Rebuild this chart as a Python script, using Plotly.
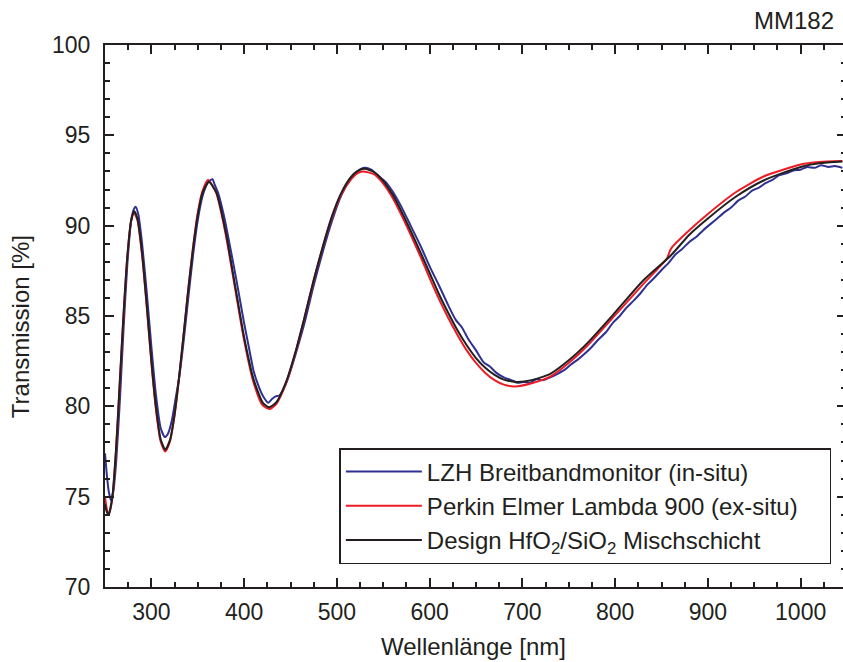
import plotly.graph_objects as go

# ---- data ----
design_wl = [250, 252, 254, 258, 262, 266, 270, 274, 278, 281.5, 285, 290, 295, 300, 305, 310, 315,
             320, 325, 330, 335, 340, 345, 350, 355, 362, 370, 380, 390, 400, 410, 420, 427,
             435, 445, 455, 465, 475, 485, 495, 505, 515, 522, 530, 540, 550, 560, 570, 580, 590,
             600, 610, 620, 630, 640, 650, 660, 670, 680, 694, 710, 730, 750, 770, 800, 830, 860,
             880, 900, 930, 960, 1000, 1020, 1045]
design_T = [74.6, 74.15, 74.0, 75.02, 77.72, 81.41, 85.12, 88.25, 90.23, 90.8, 90.38, 88.47, 85.64,
            82.54, 79.93, 78.18, 77.6, 78.13, 79.56, 81.67, 84.09, 86.56, 88.75, 90.58, 91.79, 92.43,
            91.84, 89.70, 86.76, 83.82, 81.52, 80.21, 79.95, 80.24, 81.32, 82.95, 84.91, 86.99, 88.88,
            90.57, 91.84, 92.68, 93.02, 93.15, 92.97, 92.47, 91.72, 90.75, 89.67, 88.54, 87.38, 86.22,
            85.18, 84.21, 83.38, 82.67, 82.13, 81.74, 81.48, 81.35, 81.45, 81.8, 82.55, 83.5, 85.2,
            86.95, 88.35, 89.5, 90.4, 91.6, 92.5, 93.25, 93.45, 93.55]

pe_wl = [250, 252, 254, 258, 262, 266, 270, 274, 278, 281, 285, 290, 295, 300, 305, 310, 315,
         320, 325, 330, 335, 340, 345, 350, 355, 361, 370, 380, 390, 400, 410, 420, 428,
         435, 445, 455, 465, 475, 485, 495, 505, 515, 522, 528, 540, 550, 560, 570, 580, 590,
         600, 610, 620, 630, 640, 650, 660, 670, 680, 692, 710, 730, 750, 770, 800, 830, 856,
         859, 862, 880, 900, 930, 960, 1000, 1020, 1045]
pe_T = [75.0, 74.3, 74.0, 74.95, 77.6, 81.3, 85.0, 88.2, 90.2, 90.75, 90.3, 88.35, 85.5, 82.4,
        79.8, 78.05, 77.5, 78.05, 79.5, 81.65, 84.1, 86.6, 88.85, 90.7, 91.9, 92.53, 91.8, 89.55,
        86.6, 83.65, 81.35, 80.05, 79.85, 80.15, 81.25, 82.9, 84.87, 86.95, 88.85, 90.5, 91.75,
        92.55, 92.9, 93.0, 92.85, 92.33, 91.55, 90.55, 89.45, 88.3, 87.1, 85.95, 84.9, 83.95,
        83.1, 82.4, 81.85, 81.45, 81.2, 81.1, 81.28, 81.65, 82.4, 83.35, 85.05, 86.75, 88.2,
        88.6, 88.85, 89.75, 90.65, 91.85, 92.72, 93.38, 93.52, 93.58]

lzh_wl = [250, 252, 254, 256.5, 259, 262, 266, 270, 274, 278, 281, 283, 286, 290, 295, 300, 305,
          310, 314.5, 318, 322, 326, 330, 335, 340, 345, 350, 355, 360, 363, 366, 368, 372, 378,
          385, 392, 400, 405, 410, 415, 420, 426, 430, 434, 438, 442, 447, 455, 465, 475, 485,
          495, 505, 515, 522, 530, 537, 545, 552, 560, 570, 580, 590, 600, 610, 620, 628, 635,
          642, 650, 658, 665, 672, 680, 688, 695, 702, 708, 715, 722, 730, 738, 745, 752, 760,
          768, 775, 782, 790, 798, 805, 812, 820, 828, 835, 842, 850, 857, 865, 872, 880, 888,
          895, 903, 910, 918, 925, 933, 940, 948, 955, 962, 970, 977, 985, 992, 1000, 1007,
          1015, 1022, 1030, 1037, 1045]
lzh_T = [77.4, 76.2, 75.3, 74.8, 75.3, 76.9, 80.3, 84.3, 87.8, 90.2, 90.9, 91.05, 90.6, 89.0,
         86.3, 83.3, 80.6, 78.8, 78.3, 78.5, 79.2, 80.4, 81.6, 83.7, 86.1, 88.4, 90.3, 91.6, 92.3,
         92.5, 92.57, 92.3, 91.8, 90.6, 88.8, 86.9, 84.6, 83.3, 82.0, 81.2, 80.6, 80.2, 80.4,
         80.55, 80.6, 80.9, 81.5, 82.8, 84.6, 86.7, 88.6, 90.3, 91.7, 92.6, 93.0, 93.2, 93.1,
         92.75, 92.45, 91.9, 91.0, 89.95, 88.9, 87.75, 86.7, 85.6, 84.8, 84.35, 83.7, 83.1,
         82.45, 82.2, 81.85, 81.6, 81.45, 81.3, 81.35, 81.3, 81.5, 81.45, 81.6, 81.8, 82.0,
         82.3, 82.6, 82.95, 83.3, 83.7, 84.1, 84.65, 85.0, 85.45, 85.85, 86.3, 86.75, 87.1,
         87.55, 87.9, 88.4, 88.7, 89.1, 89.4, 89.75, 90.1, 90.4, 90.75, 91.0, 91.4, 91.6,
         91.95, 92.1, 92.35, 92.55, 92.8, 92.9, 93.05, 93.1, 93.25, 93.2, 93.35, 93.25, 93.3,
         93.2]

series_names = ["LZH Breitbandmonitor (in-situ)",
                "Perkin Elmer Lambda 900 (ex-situ)\u00a0\u00a0\u00a0\u00a0",
                "Design HfO<sub>2</sub>/SiO<sub>2</sub> Mischschicht"]
x_ticks = [300, 400, 500, 600, 700, 800, 900, 1000]
y_ticks = [70, 75, 80, 85, 90, 95, 100]

INK = "#231f20"
FONT = "Liberation Sans, Arial, sans-serif"

# plot area in window pixels: x 105..848 (right edge falls just outside the window), y 45..587
L, T = 105, 45
PW, PH = 743, 542
W, H = L + PW, 662


def px(xw):  # window x -> paper x
    return (xw - L) / PW


def py(yw):  # window y -> paper y
    return (T + PH - yw) / PH


fig = go.Figure()
fig.add_trace(go.Scatter(x=lzh_wl, y=lzh_T, mode="lines", name=series_names[0],
                         line=dict(color="#2e3192", width=2, shape="spline", smoothing=0.6)))
fig.add_trace(go.Scatter(x=pe_wl, y=pe_T, mode="lines", name=series_names[1],
                         line=dict(color="#ed1c24", width=2, shape="spline", smoothing=0.6)))
fig.add_trace(go.Scatter(x=design_wl, y=design_T, mode="lines", name=series_names[2],
                         line=dict(color=INK, width=2, shape="spline", smoothing=0.6)))

fig.update_layout(
    width=W, height=H,
    margin=dict(l=L, r=0, t=T, b=H - T - PH),
    paper_bgcolor="white", plot_bgcolor="white",
    font=dict(family=FONT, size=23, color=INK),
    showlegend=True,
    legend=dict(x=px(340), y=py(448), xanchor="left", yanchor="top",
                bgcolor="white", bordercolor=INK, borderwidth=1.5,
                font=dict(size=24, color=INK), itemwidth=76, tracegroupgap=0),
    xaxis=dict(range=[250, 1048.9], tickvals=x_ticks, ticks="inside", ticklen=9, tickwidth=1.5,
               tickcolor=INK, showline=True, linecolor=INK, linewidth=2, mirror="allticks",
               showgrid=False, zeroline=False, ticklabelstandoff=3,
               minor=dict(dtick=25, tick0=250, ticks="inside", ticklen=5, tickwidth=1.5,
                          tickcolor=INK, showgrid=False)),
    yaxis=dict(range=[70, 100], tickvals=y_ticks, ticks="inside", ticklen=9, tickwidth=1.5,
               tickcolor=INK, showline=True, linecolor=INK, linewidth=2, mirror="allticks",
               showgrid=False, zeroline=False, ticklabelstandoff=8,
               minor=dict(dtick=1, tick0=70, ticks="inside", ticklen=5, tickwidth=1.5,
                          tickcolor=INK, showgrid=False)),
    annotations=[
        dict(text="Wellenlänge [nm]", xref="paper", yref="paper", x=px(474), y=py(646),
             xanchor="center", yanchor="middle", showarrow=False, font=dict(size=24, color=INK)),
        dict(text="Transmission [%]", xref="paper", yref="paper", x=px(20), y=py(327),
             xanchor="center", yanchor="middle", textangle=-90,
             showarrow=False, font=dict(size=24, color=INK)),
        dict(text="MM182", xref="paper", yref="paper", x=px(838), y=py(21),
             xanchor="right", yanchor="middle", showarrow=False, font=dict(size=24, color=INK)),
    ],
)

page_fix = ("document.documentElement.style.overflow='hidden';"
            "document.body.style.margin='0';"
            "document.body.style.overflow='hidden';")
fig.write_html("out.html", post_script=page_fix, config={"displayModeBar": False})
